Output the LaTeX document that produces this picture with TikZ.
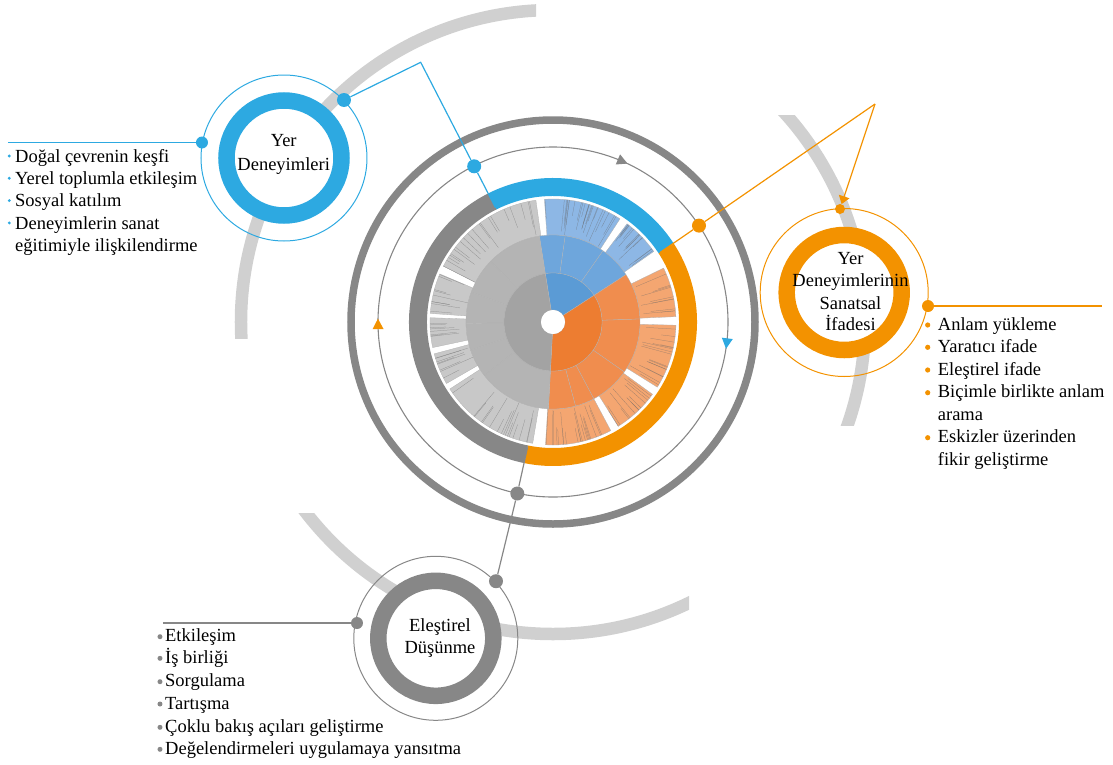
\documentclass[tikz,border=0pt]{standalone}
\usepackage{fontspec}
\setmainfont{Liberation Serif}
\usetikzlibrary{arrows.meta}
\definecolor{cblue}{HTML}{2DA9E1}
\definecolor{corange}{HTML}{F39200}
\definecolor{cgray}{HTML}{878787}
\definecolor{carc}{HTML}{D0D0D0}
\definecolor{sbA}{HTML}{5B9BD5}
\definecolor{sbB}{HTML}{6EA6DC}
\definecolor{sbC}{HTML}{8DB7E5}
\definecolor{soA}{HTML}{ED7D31}
\definecolor{soB}{HTML}{F08D4E}
\definecolor{soC}{HTML}{F4A671}
\definecolor{sgA}{HTML}{A3A3A3}
\definecolor{sgB}{HTML}{B4B4B4}
\definecolor{sgC}{HTML}{C8C8C8}
\newcommand\mysector[5]{\filldraw[#5] (#1:#3) arc[start angle=#1,end angle=#2,radius=#3] -- (#2:#4) arc[start angle=#2,end angle=#1,radius=#4] -- cycle;}
\newcommand\myhair[4]{%
  \pgfmathsetseed{#4}%
  \foreach \k in {1,...,#3}{%
    \pgfmathsetmacro\hang{#1+rnd*(#2-#1)}%
    \pgfmathsetmacro\hrin{87+rnd*24}%
    \draw[hairline] (\hang:\hrin) -- (\hang:123);
  }}
\tikzset{
  bigarc/.style={carc, line width=12.5pt},
  ringn/.style={circle, line width=16.5pt, fill=white, minimum size=115pt, inner sep=0pt},
  thinc/.style={line width=1pt},
  cdot/.style={circle, inner sep=0pt, minimum size=#1},
  ttl/.style={font=\fontsize{18.5}{22}\selectfont, anchor=base, inner sep=0pt},
  lst/.style={font=\fontsize{18.5}{22}\selectfont, anchor=base west, inner sep=0pt},
  hairline/.style={black!60, line width=0.25pt, opacity=0.6},
  sec/.style={draw=black!30, line width=0.3pt},
  conn/.style={line width=1.2pt},
}
\begin{document}
\begin{tikzpicture}[x=1pt,y=1pt]
\useasboundingbox (-553,-442) rectangle (560,322);
% big light arcs
\begin{scope}
  \clip (-600,-16) rectangle (-17,400);
  \draw[bigarc] (0,0) circle[radius=312];
\end{scope}
\begin{scope}
  \clip (0,-103) rectangle (600,207);
  \draw[bigarc] (0,0) circle[radius=312];
\end{scope}
\begin{scope}
  \clip (-600,-500) rectangle (136,-191);
  \draw[bigarc] (0,0) circle[radius=312];
\end{scope}
% outer circles
\draw[cgray, line width=7.5pt] (0,0) circle[radius=202];
\draw[cgray, line width=1.1pt] (0,0) circle[radius=175];
% colored band
\draw[cblue, line width=18pt] (116.7:135) arc[start angle=116.7,end angle=33,radius=135];
\draw[corange, line width=18pt] (33:135) arc[start angle=33,end angle=-101.5,radius=135];
\draw[cgray, line width=18pt] (258.5:135) arc[start angle=258.5,end angle=116.7,radius=135];
% sunburst ring 3
\mysector{35}{53}{87}{123}{sec, fill=sbC}
\mysector{57}{94}{87}{123}{sec, fill=sbC}
\mysector{2.5}{26}{87}{123}{sec, fill=soC}
\mysector{-32}{-1.5}{87}{123}{sec, fill=soC}
\mysector{-58}{-36}{87}{123}{sec, fill=soC}
\mysector{-93.5}{-62}{87}{123}{sec, fill=soC}
\mysector{98}{153}{87}{123}{sec, fill=sgC}
\mysector{157}{176}{87}{123}{sec, fill=sgC}
\mysector{178}{192}{87}{123}{sec, fill=sgC}
\mysector{195}{210}{87}{123}{sec, fill=sgC}
\mysector{213}{260.5}{87}{123}{sec, fill=sgC}
\myhair{35}{53}{14}{3}
\myhair{57}{94}{24}{5}
\myhair{2.5}{26}{10}{7}
\myhair{-32}{-1.5}{16}{11}
\myhair{-58}{-36}{12}{13}
\myhair{-93.5}{-62}{20}{17}
\myhair{98}{153}{20}{19}
\myhair{157}{176}{9}{23}
\myhair{178}{192}{8}{29}
\myhair{195}{210}{8}{31}
\myhair{213}{260.5}{16}{37}
% ring 2
\mysector{33}{55}{49}{87}{sec, fill=sbB}
\mysector{55}{82}{49}{87}{sec, fill=sbB}
\mysector{82}{99}{49}{87}{sec, fill=sbB}
\mysector{2}{33}{49}{87}{sec, fill=soB}
\mysector{-35}{2}{49}{87}{sec, fill=soB}
\mysector{-62}{-35}{49}{87}{sec, fill=soB}
\mysector{-75}{-62}{49}{87}{sec, fill=soB}
\mysector{-93}{-75}{49}{87}{sec, fill=soB}
\mysector{99}{136}{49}{87}{sec, fill=sgB}
\mysector{136}{160}{49}{87}{sec, fill=sgB}
\mysector{160}{181}{49}{87}{sec, fill=sgB}
\mysector{181}{199}{49}{87}{sec, fill=sgB}
\mysector{199}{218}{49}{87}{sec, fill=sgB}
\mysector{218}{267}{49}{87}{sec, fill=sgB}
% ring 1
\mysector{33}{99}{12}{49}{sec, fill=sbA}
\mysector{-93}{33}{12}{49}{sec, fill=soA}
\mysector{99}{267}{12}{49}{sec, fill=sgA}
\fill[white] (0,0) circle[radius=12];
% flow arrows on thin circle
\fill[cgray, shift={(66.6:175)}, rotate=-23.4] (5.5,0) -- (-5,5.5) -- (-5,-5.5) -- cycle;
\fill[cblue, shift={(-7:175)}, rotate=-97] (5.5,0) -- (-5,5.5) -- (-5,-5.5) -- cycle;
\fill[corange, shift={(180.7:175)}, rotate=90.7] (5.5,0) -- (-5,5.5) -- (-5,-5.5) -- cycle;
% node circles
\draw[cblue, thinc] (-269,164) circle[radius=83];
\draw[corange, thinc] (291.2,29.5) circle[radius=84];
\draw[cgray, thinc] (-117.2,-316.3) circle[radius=82];
\node[ringn, draw=cblue] (bring) at (-269,164) {};
\node[ringn, draw=corange] (oring) at (291.2,29.5) {};
\node[ringn, draw=cgray] (gring) at (-117.2,-316.3) {};
% connector points
\coordinate (bband) at (116.7:128);
\coordinate (bcorner) at (-132.3,259.7);
\coordinate (bend) at (-545,179.5);
\coordinate (oband) at (33:128);
\coordinate (ocorner) at (322,218);
\coordinate (oend) at (549,16);
\coordinate (gband) at (258.5:128);
\coordinate (gend) at (-390,-301);
% dots
\node[cdot=12pt, fill=cblue] (bd1) at (-351,179.5) {};
\node[cdot=14pt, fill=cblue] (bd2) at (-209,222) {};
\node[cdot=14pt, fill=cblue] (bd3) at (-78.8,155.7) {};
\node[cdot=14pt, fill=corange] (od1) at (146,96.4) {};
\node[cdot=10pt, fill=corange] (od2) at (287,113) {};
\node[cdot=12pt, fill=corange] (od3) at (375,16) {};
\node[cdot=14pt, fill=cgray] (gd1) at (-35.7,-171.5) {};
\node[cdot=14pt, fill=cgray] (gd2) at (-57,-259.2) {};
\node[cdot=12pt, fill=cgray] (gd3) at (-196,-301) {};
% connectors
\draw[cblue, conn] (bband) -- (bd3) -- (bcorner) -- (bd2);
\draw[cblue, conn] (bend) -- (bd1);
\draw[corange, conn] (oband) -- (od1) -- (ocorner);
\draw[corange, conn, -{Triangle[width=11pt,length=8pt]}] (ocorner) -- (od2);
\draw[corange, conn] (od3) -- (oend);
\draw[cgray, conn] (gband) -- (gd1) -- (gd2);
\draw[cgray, conn] (gend) -- (gd3);
% titles
\node[ttl] (bt1) at (-269.3,175.3) {Yer};
\node[ttl] (bt2) at (-269.3,152) {Deneyimleri};
\node[ttl] (ot1) at (297.5,58) {Yer};
\node[ttl] (ot2) at (297.5,35.3) {Deneyimlerinin};
\node[ttl] (ot3) at (297.5,13) {Sanatsal};
\node[ttl] (ot4) at (297.5,-8.7) {İfadesi};
\node[ttl] (gt1) at (-113,-309.7) {Eleştirel};
\node[ttl] (gt2) at (-113,-331.3) {Düşünme};
% blue list
\foreach \yy in {159.7,137.4,115.1,92.8}{\fill[cblue] (-543.7,\yy+6.3) circle[radius=1.6];}
\node[lst] (bl1) at (-538,159.7) {Doğal çevrenin keşfi};
\node[lst] (bl2) at (-538,137.4) {Yerel toplumla etkileşim};
\node[lst] (bl3) at (-538,115.1) {Sosyal katılım};
\node[lst] (bl4) at (-538,92.8) {Deneyimlerin sanat};
\node[lst] (bl5) at (-538,70.5) {eğitimiyle ilişkilendirme};
% orange list
\foreach \yy in {-8,-30.3,-53,-75.7,-120.7}{\fill[corange] (374.7,\yy+5) circle[radius=2.6];}
\node[lst] (ol1) at (384.7,-8) {Anlam yükleme};
\node[lst] (ol2) at (384.7,-30.3) {Yaratıcı ifade};
\node[lst] (ol3) at (384.7,-53) {Eleştirel ifade};
\node[lst] (ol4) at (384.7,-75.7) {Biçimle birlikte anlam};
\node[lst] (ol5) at (384.7,-98) {arama};
\node[lst] (ol6) at (384.7,-120.7) {Eskizler üzerinden};
\node[lst] (ol7) at (384.7,-143) {fikir geliştirme};
% gray list
\foreach \yy in {-319.7,-341.3,-364.7,-387,-410.3,-432.3}{\fill[cgray] (-393,\yy+5) circle[radius=2.5];}
\node[lst] (gl1) at (-388,-319.7) {Etkileşim};
\node[lst] (gl2) at (-388,-341.3) {İş birliği};
\node[lst] (gl3) at (-388,-364.7) {Sorgulama};
\node[lst] (gl4) at (-388,-387) {Tartışma};
\node[lst] (gl5) at (-388,-410.3) {Çoklu bakış açıları geliştirme};
\node[lst] (gl6) at (-388,-432.3) {Değelendirmeleri uygulamaya yansıtma};
\end{tikzpicture}
\end{document}
